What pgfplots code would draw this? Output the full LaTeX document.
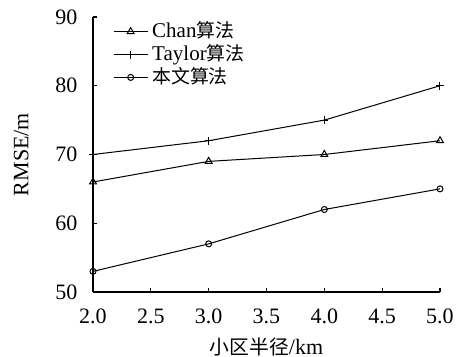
\documentclass[border=0pt]{standalone}
\usepackage{pgfplots}
\pgfplotsset{compat=1.18}
\usepackage{fontspec}
\setmainfont{Liberation Serif}
\newfontfamily\cjk{Noto Sans CJK SC}[Scale=0.9]
\begin{document}
\fontsize{11}{13}\selectfont
\begin{tikzpicture}
\begin{axis}[
  name=ax,
  scale only axis,
  width=173.5pt, height=137.5pt,
  xmin=2, xmax=5, ymin=50, ymax=90,
  axis x line=bottom, axis y line=left,
  axis line style={-, line width=0.55pt},
  tick align=inside,
  tick style={black, line width=0.55pt},
  major tick length=2.2pt,
  xtick={2,2.5,3,3.5,4,4.5,5},
  ytick={50,60,70,80,90},
  /pgf/number format/assume math mode=true,
  xticklabel style={/pgf/number format/.cd, fixed, fixed zerofill, precision=1},
  tick label style={font=\fontsize{11}{13}\selectfont},
  xticklabel shift=4.5pt,
  yticklabel shift=4pt,
  xlabel={{\cjk 小区半径}/km},
  ylabel={RMSE/m},
  label style={font=\fontsize{11}{13}\selectfont},
  every axis x label/.style={at={(axis description cs:0.5,-0.2)}, anchor=center},
  every axis y label/.style={at={(axis description cs:-0.207,0.5)}, rotate=90, anchor=center},
  legend style={draw=none, fill=none, at={(axis description cs:0.051,1.005)}, anchor=north west,
    font=\fontsize{10.5}{12}\selectfont, row sep=-2.2pt, inner sep=1pt},
  legend cell align=left,
  every axis plot/.append style={black, line width=0.5pt},
]
\addplot[mark=triangle, mark size=2pt, mark options={solid}] coordinates {(2,66) (3,69) (4,70) (5,72)};
\addlegendentry{Chan{\cjk 算法}}
\addplot[mark=+, mark size=2pt] coordinates {(2,70) (3,72) (4,75) (5,80)};
\addlegendentry{Taylor{\cjk 算法}}
\addplot[mark=o, mark size=1.5pt] coordinates {(2,53) (3,57) (4,62) (5,65)};
\addlegendentry{{\cjk 本文算法}}
\end{axis}
\pgfresetboundingbox
\path ([xshift=-46.5pt,yshift=-32.5pt]ax.south west) rectangle ([xshift=8pt,yshift=8.5pt]ax.north east);
\end{tikzpicture}
\end{document}
